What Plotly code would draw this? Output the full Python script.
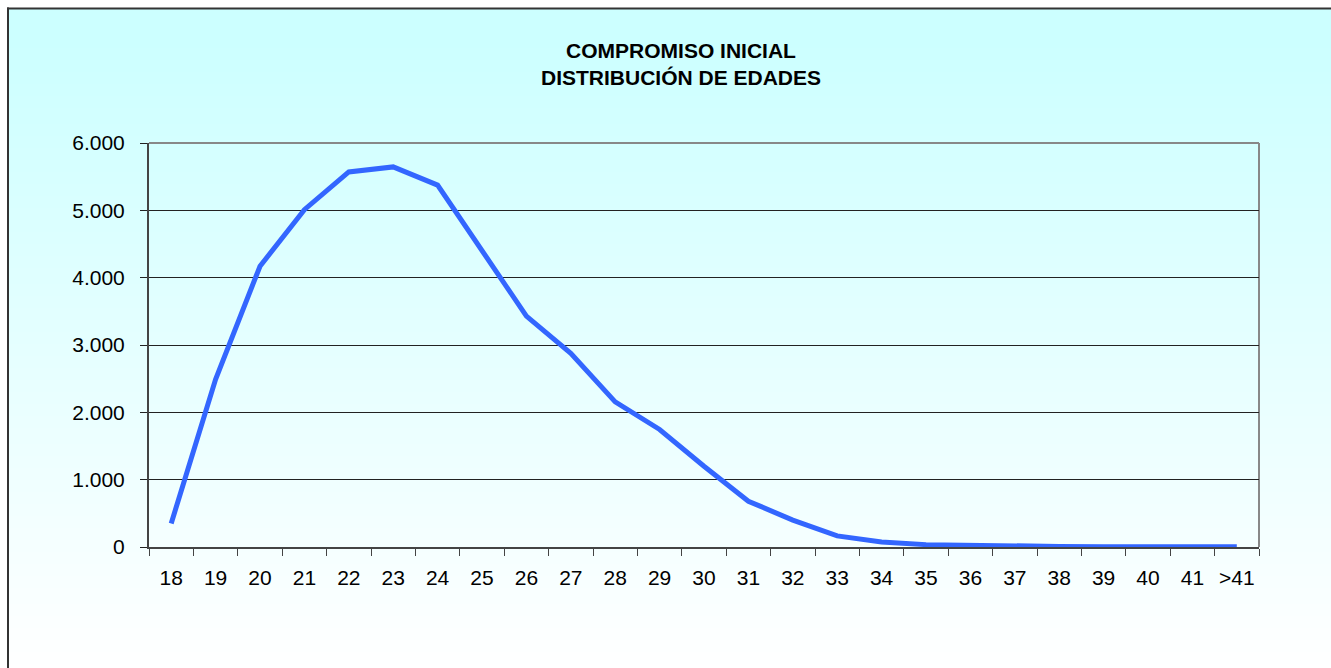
import plotly.graph_objects as go

# ---- data ----
edades = ["18", "19", "20", "21", "22", "23", "24", "25", "26", "27", "28", "29",
          "30", "31", "32", "33", "34", "35", "36", "37", "38", "39", "40", "41", ">41"]
personas = [350, 2490, 4170, 5010, 5570, 5645, 5375, 4400, 3430, 2875, 2155, 1745,
            1200, 680, 400, 165, 75, 35, 20, 12, 8, 5, 4, 3, 4]
y_ticks = [0, 1000, 2000, 3000, 4000, 5000, 6000]

W, H = 1331, 668
# plot area in page pixels
L, R, T, B = 149, 1259, 143, 547
pw, ph = R - L, B - T


def px_x(px):
    return (px - L) / pw


def px_y(py):
    return (B - py) / ph


shapes = []
# gradient background (outer chart area)
step = 4
py = 8
while py < H:
    t = min(max((py - 40) / (H - 40), 0), 1)
    c = int(round(204 + 51 * t))
    shapes.append(dict(type="rect", xref="paper", yref="paper", layer="below",
                       x0=px_x(8), x1=px_x(W + 4), y0=px_y(py), y1=px_y(min(py + step + 0.5, H + 2)),
                       fillcolor=f"rgb({c},255,255)", line=dict(width=0)))
    py += step

# outer chart border (top and left visible)
shapes.append(dict(type="line", xref="paper", yref="paper", layer="above",
                   x0=px_x(7), x1=px_x(W + 4), y0=px_y(8.5), y1=px_y(8.5),
                   line=dict(color="#333333", width=2)))
shapes.append(dict(type="line", xref="paper", yref="paper", layer="above",
                   x0=px_x(8), x1=px_x(8), y0=px_y(7.5), y1=px_y(H + 4),
                   line=dict(color="#333333", width=2)))
# plot area gray top/right border
shapes.append(dict(type="line", xref="paper", yref="paper", layer="below",
                   x0=0, x1=1, y0=1, y1=1, line=dict(color="#888888", width=2)))
shapes.append(dict(type="line", xref="paper", yref="paper", layer="below",
                   x0=1, x1=1, y0=0, y1=1, line=dict(color="#888888", width=2)))

fig = go.Figure()
fig.add_trace(go.Scatter(
    x=edades, y=personas, mode="lines",
    line=dict(color="#3366FF", width=5),
    hoverinfo="x+y", showlegend=False,
))

fig.update_layout(
    width=W, height=H,
    margin=dict(l=L, r=W - R, t=T, b=H - B, pad=0),
    paper_bgcolor="white",
    plot_bgcolor="rgba(0,0,0,0)",
    separators=",.",
    font=dict(family="Liberation Sans, Arial, sans-serif", size=21, color="black"),
    shapes=shapes,
    annotations=[dict(
        text="<b>COMPROMISO INICIAL<br>DISTRIBUCIÓN DE EDADES</b>",
        xref="paper", yref="paper", x=px_x(681), y=px_y(64.5),
        xanchor="center", yanchor="middle", showarrow=False,
        font=dict(family="Liberation Sans, Arial, sans-serif", size=21, color="black"),
    )],
    xaxis=dict(
        type="category", range=[-0.5, len(edades) - 0.5],
        showgrid=False, zeroline=False,
        showline=True, linecolor="#444444", linewidth=2,
        ticks="outside", tickson="boundaries", ticklen=7, tickcolor="#444444", tickwidth=1,
        tickfont=dict(size=21), tickangle=0, ticklabelstandoff=11,
    ),
    yaxis=dict(
        range=[0, 6000], tickvals=y_ticks, tickformat=",d",
        showgrid=True, gridcolor="#222222", gridwidth=1,
        zeroline=False,
        showline=True, linecolor="#444444", linewidth=2,
        ticks="outside", ticklen=7, tickcolor="#222222", tickwidth=1,
        tickfont=dict(size=21), ticklabelstandoff=11,
    ),
)

fig.write_html(
    "out.html",
    config={"displayModeBar": False},
    post_script="document.body.style.margin='0';document.body.style.overflow='hidden';",
)
